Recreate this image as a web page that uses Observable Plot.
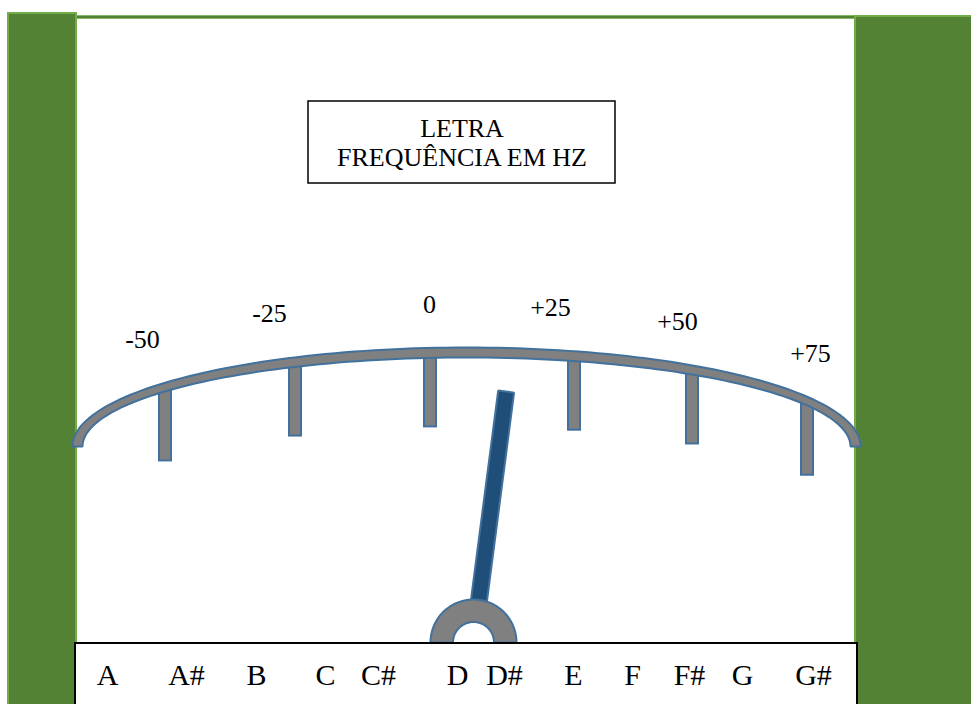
<!DOCTYPE html>
<html><head><meta charset="utf-8">
<script src="https://cdn.jsdelivr.net/npm/d3@7"></script>
<script src="https://cdn.jsdelivr.net/npm/@observablehq/plot@0.6"></script>
<style>body{margin:0;background:#fff;overflow:hidden}#chart svg{display:block}</style>
</head><body><div id="chart"></div>
<script>
// ---- data ----
const titleLines = ["LETRA", "FREQUÊNCIA EM HZ"];
const centsTicks = [-50, -25, 0, 25, 50, 75];
const centsLabels = ["-50", "-25", "0", "+25", "+50", "+75"];
const notes = ["A", "A#", "B", "C", "C#", "D", "D#", "E", "F", "F#", "G", "G#"];
const needleCents = 14;

// ---- layout scales (pixel geometry of the dial) ----
const centsX = d3.scaleLinear().domain(centsTicks).range([165, 295, 430, 574, 692, 807]);
const labelX = d3.scaleLinear().domain(centsTicks).range([142, 269, 429, 550, 677, 810]);
const noteX = d3.scaleOrdinal().domain(notes).range([107, 186, 256, 325, 378, 457, 504, 573, 632, 689, 742, 813]);
const arc = {cx: 466, cy: 446, aO: 394, bO: 99, aI: 384, bI: 89};
const pivot = {x: 473, y: 642};
const GREEN = "#548235", LGREEN = "#70ad47", BLUE = "#41719c", GRAY = "#808080", NAVY = "#1f4e79";
const serif = "'Liberation Serif', 'Times New Roman', serif";

const outerY = x => arc.cy - arc.bO * Math.sqrt(Math.max(0, 1 - ((x - arc.cx) / arc.aO) ** 2));
const innerY = x => arc.cy - arc.bI * Math.sqrt(Math.max(0, 1 - ((x - arc.cx) / arc.aI) ** 2));
const midY = x => (outerY(x) + innerY(x)) / 2;

// arc band polygon
const steps = d3.range(0, 121).map(i => Math.PI - i * Math.PI / 120);
const band = [
  ...steps.map(t => ({x: arc.cx + arc.aO * Math.cos(t), y: arc.cy - arc.bO * Math.sin(t)})),
  ...steps.slice().reverse().map(t => ({x: arc.cx + arc.aI * Math.cos(t), y: arc.cy - arc.bI * Math.sin(t)}))
];
band.push(band[0]);

// ticks
const ticks = centsTicks.map((v, i) => {
  const xc = centsX(v);
  const top = midY(xc);
  return {v, label: centsLabels[i], x1: xc - 6, x2: xc + 6, y1: top, y2: top + 74, lx: labelX(v), ly: outerY(xc) - 35};
});

// needle
const tx = centsX(needleCents), ty = midY(tx);
const th = Math.atan2(tx - pivot.x, pivot.y - ty);
const ux = Math.sin(th), uy = -Math.cos(th), nx = Math.cos(th), ny = Math.sin(th);
const r0 = 38, r1 = 253, hw = 8;
const needle = [
  {x: pivot.x + ux * r0 - nx * hw, y: pivot.y + uy * r0 - ny * hw},
  {x: pivot.x + ux * r1 - nx * hw, y: pivot.y + uy * r1 - ny * hw},
  {x: pivot.x + ux * r1 + nx * hw, y: pivot.y + uy * r1 + ny * hw},
  {x: pivot.x + ux * r0 + nx * hw, y: pivot.y + uy * r0 + ny * hw}
];
needle.push(needle[0]);

// hub (half annulus)
const hs = d3.range(0, 61).map(i => Math.PI - i * Math.PI / 60);
const hub = [
  ...hs.map(t => ({x: pivot.x + 43 * Math.cos(t), y: pivot.y - 43 * Math.sin(t)})),
  ...hs.slice().reverse().map(t => ({x: pivot.x + 20.5 * Math.cos(t), y: pivot.y - 20.5 * Math.sin(t)}))
];
hub.push(hub[0]);

// frame pieces
const panels = [
  {x1: 8, x2: 76, y1: 13, y2: 712},
  {x1: 855, x2: 980, y1: 16, y2: 712}
];
const topLine = [{x1: 76, x2: 855, y1: 15.5, y2: 18.5}];
const titleBox = [{x1: 308, x2: 615, y1: 101, y2: 183}];
const noteBox = [{x1: 75, x2: 857, y1: 643, y2: 716}];
const titleData = titleLines.map((t, i) => ({t, x: 461.5, y: 136 + i * 29}));

const chart = Plot.plot({
  width: 971, height: 704, margin: 0,
  x: {type: "identity"}, y: {type: "identity"},
  style: {background: "white"},
  marks: [
    Plot.rect(topLine, {x1: "x1", x2: "x2", y1: "y1", y2: "y2", fill: GREEN, stroke: LGREEN, strokeWidth: 0.6}),
    Plot.rect(panels, {x1: "x1", x2: "x2", y1: "y1", y2: "y2", fill: GREEN, stroke: LGREEN, strokeWidth: 2}),
    Plot.rect(titleBox, {x1: "x1", x2: "x2", y1: "y1", y2: "y2", fill: "white", stroke: "black", strokeWidth: 1.5}),
    Plot.text(titleData, {x: "x", y: "y", text: "t", fontSize: 26, fontFamily: serif, fill: "black", textAnchor: "middle", lineAnchor: "bottom"}),
    Plot.rect(ticks, {x1: "x1", x2: "x2", y1: "y1", y2: "y2", fill: GRAY, stroke: BLUE, strokeWidth: 2}),
    Plot.line(band, {x: "x", y: "y", fill: GRAY, stroke: BLUE, strokeWidth: 2, curve: "linear", strokeLinejoin: "miter"}),
    Plot.text(ticks, {x: "lx", y: "ly", text: "label", fontSize: 26, fontFamily: serif, fill: "black", textAnchor: "middle", lineAnchor: "bottom"}),
    Plot.line(needle, {x: "x", y: "y", fill: NAVY, stroke: BLUE, strokeWidth: 2, curve: "linear", strokeLinejoin: "miter"}),
    Plot.line(hub, {x: "x", y: "y", fill: GRAY, stroke: BLUE, strokeWidth: 2, curve: "linear"}),
    Plot.rect(noteBox, {x1: "x1", x2: "x2", y1: "y1", y2: "y2", fill: "white", stroke: "black", strokeWidth: 2}),
    Plot.text(notes, {x: d => noteX(d), y: () => 684, text: d => d, fontSize: 30, fontFamily: serif, fill: "black", textAnchor: "middle", lineAnchor: "bottom"})
  ]
});
document.getElementById("chart").append(chart);
</script>
</body></html>
